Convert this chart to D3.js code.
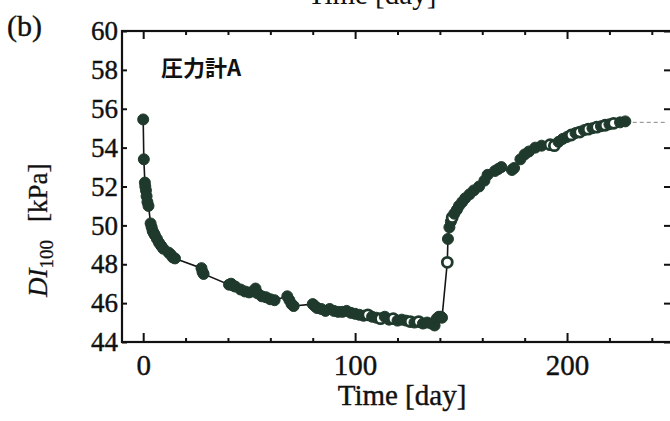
<!DOCTYPE html>
<meta charset="utf-8">
<style>
body { margin: 0; background: #fff; }
svg { display: block; }
.tick text { font-family: "Liberation Serif", "DejaVu Serif", serif; fill: #111; stroke: #111; stroke-width: 0.4px; }
.domain { display: none; }
.tick line { stroke: #111; stroke-width: 2px; }
</style>
<svg width="670" height="421"></svg>
<script src="https://cdn.jsdelivr.net/npm/d3@7/dist/d3.min.js"></script>
<script>

// filled markers (day, DI100 kPa)
var filledDays = [0, 0.3, 0.8, 1.0, 1.3, 1.6, 2.0, 2.5, 3.5, 4.0, 4.5, 5.0, 5.5, 6.5, 7.5, 8.5, 9.5,
    12, 13, 14, 15, 27.5, 28, 28.5, 40.5, 41.5, 42.5, 43.5, 46, 48, 50, 52, 53, 54, 56, 58, 60, 62,
    68, 69, 70, 71, 80, 81, 82, 84, 86, 88, 90, 92, 94, 96, 98, 100, 102, 104, 108, 110, 114, 116,
    120, 122, 124, 128, 132, 134, 136, 137.5, 138.5, 139.5, 140.5, 141,
    143.8, 144.5, 145.2, 146.8, 148, 149, 150.5, 152, 154, 156, 158.5, 161, 162.5, 166, 167.5, 169,
    174, 175, 178, 180, 182, 185, 188, 196, 198, 200, 204, 208, 212, 216, 220, 225, 227.5];
var filledVals = [55.45, 53.4, 52.2, 52.0, 51.8, 51.5, 51.2, 51.0, 50.1, 49.9, 49.7, 49.6, 49.5, 49.3, 49.1, 48.95, 48.8,
    48.6, 48.5, 48.35, 48.3, 47.8, 47.6, 47.5, 46.95, 47.0, 46.9, 46.85, 46.7, 46.6, 46.55, 46.6, 46.75, 46.5, 46.35, 46.3, 46.2, 46.15,
    46.35, 46.15, 45.95, 45.85, 45.95, 45.85, 45.75, 45.7, 45.6, 45.7, 45.6, 45.55, 45.55, 45.6, 45.5, 45.45, 45.4, 45.35, 45.3, 45.25, 45.3, 45.15,
    45.1, 45.15, 45.1, 45.0, 44.95, 45.0, 44.95, 44.85, 45.2, 45.3, 45.3, 45.25,
    49.3, 49.9, 50.2, 50.6, 50.8, 51.0, 51.2, 51.4, 51.6, 51.8, 52.0, 52.3, 52.6, 52.8, 52.9, 53.0,
    52.85, 52.95, 53.4, 53.65, 53.8, 54.0, 54.1, 54.3, 54.45, 54.55, 54.75, 54.9, 55.0, 55.1, 55.2, 55.3, 55.35];

// open markers
var openDays = [106, 112, 118, 126, 130, 143.5, 145.8, 192, 194, 202, 206, 210, 214, 218, 222];
var openVals = [45.4, 45.2, 45.2, 45.05, 45.05, 48.1, 50.4, 54.15, 54.1, 54.65, 54.8, 54.95, 55.05, 55.15, 55.25];

// faint dashed tail after last reading
var tailDays = [231, 247];
var tailVals = [55.3, 55.3];

var xMajor = [0, 100, 200];
var xMinor = [20, 40, 60, 80, 120, 140, 160, 180, 220, 240];
var yTicks = [44, 46, 48, 50, 52, 54, 56, 58, 60];

var svg = d3.select("svg");
var pLeft = 122, pRight = 673, pTop = 31, pBottom = 342;

var x = d3.scaleLinear().domain([-10, 250]).range([pLeft, pRight]);
var y = d3.scaleLinear().domain([44, 60]).range([pBottom, pTop]);

var markColor = "#1f3a2c";

// axes
svg.append("g").attr("transform", "translate(0," + pBottom + ")")
    .call(d3.axisBottom(x).tickValues(xMinor).tickSize(-4).tickFormat(""));
svg.append("g").attr("transform", "translate(0," + pBottom + ")")
    .call(d3.axisBottom(x).tickValues(xMajor).tickSize(-9).tickPadding(12).tickFormat(d3.format("d")))
    .selectAll("text").style("font-size", "29px");
svg.append("g").attr("transform", "translate(0," + pTop + ")")
    .call(d3.axisTop(x).tickValues(xMinor).tickSize(-4).tickFormat(""));
svg.append("g").attr("transform", "translate(0," + pTop + ")")
    .call(d3.axisTop(x).tickValues(xMajor).tickSize(-8).tickFormat(""));
svg.append("g").attr("transform", "translate(" + pLeft + ",0)")
    .call(d3.axisLeft(y).tickValues(yTicks).tickSize(-5).tickPadding(4))
    .selectAll("text").style("font-size", "27px");
svg.append("g").attr("transform", "translate(" + pRight + ",0)")
    .call(d3.axisRight(y).tickValues(yTicks).tickSize(-9).tickFormat(""));

svg.append("rect")
    .attr("x", pLeft).attr("y", pTop)
    .attr("width", pRight - pLeft).attr("height", pBottom - pTop)
    .attr("fill", "none").attr("stroke", "#111").attr("stroke-width", 2.2);

// series
var pts = [];
filledDays.forEach(function(d, i) { pts.push({day: d, val: filledVals[i], open: false}); });
openDays.forEach(function(d, i) { pts.push({day: d, val: openVals[i], open: true}); });
pts.sort(function(a, b) { return a.day - b.day; });

var line = d3.line()
    .x(function(d) { return x(d.day); })
    .y(function(d) { return y(d.val); });

svg.append("path").datum(pts)
    .attr("d", line)
    .attr("fill", "none").attr("stroke", "#151515").attr("stroke-width", 1.6);

svg.append("path")
    .datum(tailDays.map(function(d, i) { return {day: d, val: tailVals[i]}; }))
    .attr("d", line)
    .attr("fill", "none").attr("stroke", "#888").attr("stroke-width", 1)
    .attr("stroke-dasharray", "4,3");

svg.append("g").selectAll("circle")
    .data(pts)
    .enter().append("circle")
    .attr("cx", function(d) { return x(d.day); })
    .attr("cy", function(d) { return y(d.val); })
    .attr("r", function(d) { return d.open ? 5 : 5.5; })
    .attr("fill", function(d) { return d.open ? "#fff" : markColor; })
    .attr("stroke", markColor)
    .attr("stroke-width", function(d) { return d.open ? 2.8 : 1; });

// labels
var serif = "Liberation Serif, serif";
svg.append("text")
    .attr("x", 402).attr("y", 405)
    .attr("text-anchor", "middle")
    .style("font-family", serif).style("font-size", "29px").style("fill", "#111")
    .style("stroke", "#111").style("stroke-width", 0.4)
    .text("Time [day]");

// bottom of the upper panel's axis title, cut by the page edge
svg.append("text")
    .attr("x", 372).attr("y", 4)
    .attr("text-anchor", "middle")
    .style("font-family", serif).style("font-size", "29px").style("fill", "#111")
    .text("Time [day]");

svg.append("text")
    .attr("x", 7).attr("y", 36)
    .style("font-family", serif).style("font-size", "30px").style("fill", "#111")
    .style("stroke", "#111").style("stroke-width", 0.4)
    .text("(b)");

svg.append("text")
    .attr("x", 161).attr("y", 76)
    .style("font-family", "Noto Sans CJK JP, sans-serif").style("font-size", "22px")
    .style("font-weight", "bold").style("fill", "#111")
    .text("圧力計A");

var ylab = svg.append("text")
    .attr("transform", "translate(47,297) rotate(-90)")
    .style("font-family", serif).style("font-size", "27px").style("fill", "#111")
    .style("stroke", "#111").style("stroke-width", 0.3);
ylab.append("tspan").style("font-style", "italic").text("DI");
ylab.append("tspan").attr("dy", 6).style("font-size", "19px").text("100");
ylab.append("tspan").attr("dy", -6).attr("dx", 18).text("[kPa]");

</script>
